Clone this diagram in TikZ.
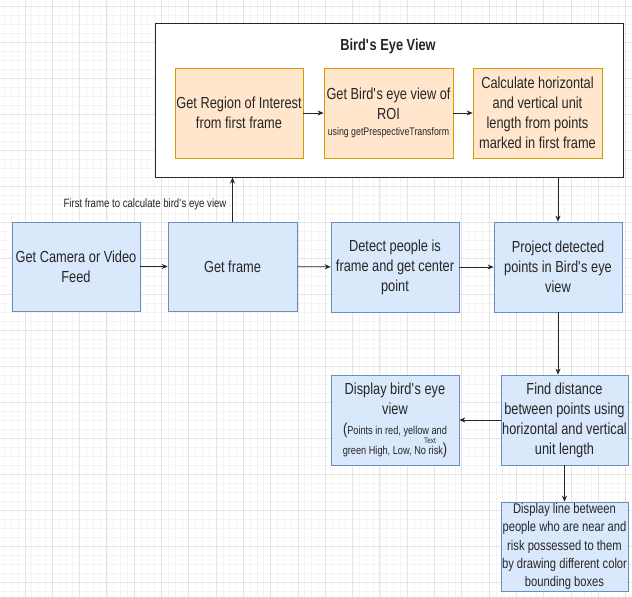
\documentclass[tikz,border=0pt]{standalone}
\usepackage{fontspec}
\setmainfont{Liberation Sans}[FakeStretch=0.8]
\usetikzlibrary{arrows.meta}
\newcommand{\apo}{\textquotesingle}
\definecolor{bluefill}{HTML}{DAE8FC}
\definecolor{blueline}{HTML}{6C8EBF}
\definecolor{orfill}{HTML}{FFE6CC}
\definecolor{orline}{HTML}{D79B00}
\definecolor{txt}{HTML}{262626}
\definecolor{gridmaj}{HTML}{E4E4E4}
\definecolor{gridmin}{HTML}{F4F4F4}
\tikzset{
  box/.style={rectangle, draw, line width=0.7pt, align=center, inner sep=0pt,
    text=txt, font=\fontsize{16}{20}\selectfont},
  bluebox/.style={box, fill=bluefill, draw=blueline},
  orbox/.style={box, fill=orfill, draw=orline},
  conn/.style={draw=txt, line width=0.8pt, -{Stealth[length=6pt,width=5pt]}},
  lbltext/.style={text=txt, inner sep=0pt},
}
\begin{document}
\begin{tikzpicture}[x=1pt,y=-1pt]
\useasboundingbox (0,0) rectangle (632,597);
\fill[white] (0,0) rectangle (632,597);
% grid
\foreach \y in {-3,6,...,600} \draw[gridmin, line width=0.4pt] (0,\y) -- (632,\y);
\foreach \x in {-2.5,4.325,...,635} \draw[gridmin, line width=0.4pt] (\x,0) -- (\x,597);
\foreach \y in {6,42,...,600} \draw[gridmaj, line width=0.6pt] (0,\y) -- (632,\y);
\foreach \x in {-2.5,24.8,...,635} \draw[gridmaj, line width=0.6pt] (\x,0) -- (\x,597);

% outer group
\node[rectangle, draw=black!85, line width=0.9pt, fill=white, minimum width=468pt, minimum height=154pt, inner sep=0pt] (outer) at (389,100) {};
\node[lbltext, font=\fontsize{16}{20}\selectfont\bfseries] (title) at (388,46) {Bird\apo s Eye View};

\node[orbox, minimum width=128pt, minimum height=90pt] (o1) at (239,113) {Get Region of Interest\\from first frame};
\node[orbox, minimum width=129pt, minimum height=90pt] (o2) at (388.5,113) {Get Bird\apo s eye view of\\ROI\\[-4pt]{\fontsize{11}{13}\selectfont using getPrespectiveTransform}};
\node[orbox, minimum width=129pt, minimum height=90pt] (o3) at (537.5,113) {Calculate horizontal\\and vertical unit\\length from points\\marked in first frame};

% main row
\node[bluebox, minimum width=128pt, minimum height=89pt] (cam) at (76,266.5) {Get Camera or Video\\Feed};
\node[bluebox, minimum width=129pt, minimum height=89pt] (frame) at (232.5,266.5) {Get frame};
\node[bluebox, minimum width=128pt, minimum height=90pt] (detect) at (395,267) {Detect people is\\frame and get center\\point};
\node[bluebox, minimum width=128pt, minimum height=90pt] (project) at (558,267) {Project detected\\points in Bird\apo s eye\\view};

\node[bluebox, minimum width=127pt, minimum height=90pt] (find) at (564.5,420) {Find distance\\between points using\\horizontal and vertical\\unit length};
\node[bluebox, minimum width=128pt, minimum height=90pt] (disp) at (395,420) {Display bird\apo s eye\\view\\({\fontsize{11.5}{14}\selectfont Points in red, yellow and}\\{\fontsize{11.5}{14}\selectfont green High, Low, No risk})};
\node[bluebox, minimum width=127pt, minimum height=89pt, font=\fontsize{14}{18.3}\selectfont] (dline) at (564.5,546.5) {Display line between\\people who are near and\\risk possessed to them\\by drawing different color\\bounding boxes};

\node[lbltext, font=\fontsize{8}{9}\selectfont] (stray) at (430,441) {Text};
\node[lbltext, font=\fontsize{12}{14}\selectfont] (lbl) at (145,204) {First frame to calculate bird\apo s eye view};

% connectors
\draw[conn] (o1) -- (o2);
\draw[conn] (o2) -- (o3);
\draw[conn] (cam) -- (frame);
\draw[conn] (frame) -- (detect);
\draw[conn] (detect) -- (project);
\draw[conn] (frame.north) -- (frame.north |- outer.south);
\draw[conn] (outer.south -| project.north) -- (project.north);
\draw[conn] (project.south) -- (project.south |- find.north);
\draw[conn] (find.west) -- (disp.east);
\draw[conn] (find.south) -- (dline.north);
\end{tikzpicture}
\end{document}
